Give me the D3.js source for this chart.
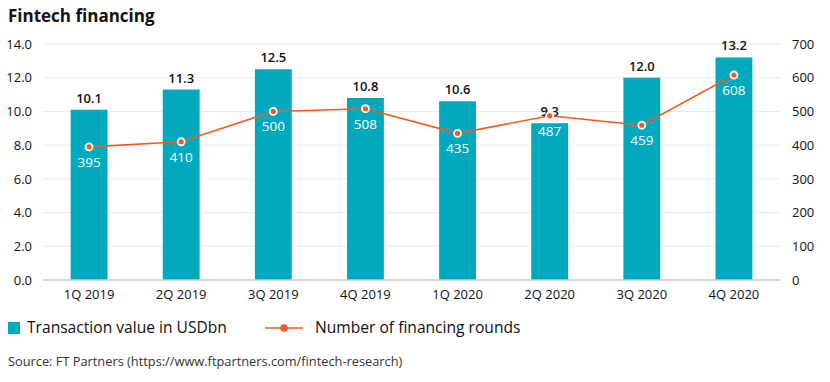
<!DOCTYPE html>
<html><head><meta charset="utf-8">
<script src="https://cdn.jsdelivr.net/npm/d3@7"></script>
<style>
body{margin:0;background:#fff;}
text{font-family:"Open Sans",sans-serif;}
</style></head>
<body><svg id="c" width="830" height="382"></svg>
<script>
const categories=["1Q 2019","2Q 2019","3Q 2019","4Q 2019","1Q 2020","2Q 2020","3Q 2020","4Q 2020"];
const transactionValue=[10.1,11.3,12.5,10.8,10.6,9.3,12.0,13.2];
const financingRounds=[395,410,500,508,435,487,459,608];
const leftTicks=[0,2,4,6,8,10,12,14];
const rightTicks=[0,100,200,300,400,500,600,700];

const svg=d3.select("#c");
const L=43,R=780,T=44,B=280;
const x=d3.scaleBand().domain(categories).range([L,R]).paddingInner(0.6).paddingOuter(0.3);
const yL=d3.scaleLinear().domain([0,14]).range([B,T]);
const yR=d3.scaleLinear().domain([0,700]).range([B,T]);
const barC="#00a9bd",lineC="#f15a24",txt="#111";

svg.append("text").attr("x",8).attr("y",22).attr("font-size",17).attr("font-weight",700).attr("fill",txt).text("Fintech financing");

// grid
svg.append("g").selectAll("line").data(leftTicks.slice(1)).join("line")
 .attr("x1",L).attr("x2",R).attr("y1",d=>yL(d)).attr("y2",d=>yL(d)).attr("stroke","#ebebeb").attr("stroke-width",1);

// left axis
const ax=d3.axisLeft(yL).tickValues(leftTicks).tickFormat(d3.format(".1f")).tickSize(0).tickPadding(11);
const gl=svg.append("g").attr("transform",`translate(${L},0)`).call(ax);
gl.select(".domain").remove();
gl.selectAll("text").attr("font-size",13).attr("fill",txt).attr("font-family","Open Sans");
const ar=d3.axisRight(yR).tickValues(rightTicks).tickSize(0).tickPadding(12);
const gr=svg.append("g").attr("transform",`translate(${R},0)`).call(ar);
gr.select(".domain").remove();
gr.selectAll("text").attr("font-size",13).attr("fill",txt).attr("font-family","Open Sans");

// bars
svg.append("g").selectAll("rect").data(transactionValue).join("rect")
 .attr("x",(d,i)=>x(categories[i])).attr("width",x.bandwidth())
 .attr("y",d=>yL(d)).attr("height",d=>B-yL(d)).attr("fill",barC);

// baseline
svg.append("line").attr("x1",L).attr("x2",R).attr("y1",B).attr("y2",B).attr("stroke","#cccccc").attr("stroke-width",1.5);

// x axis
const axb=d3.axisBottom(x).tickSize(0).tickPadding(10);
const gb=svg.append("g").attr("transform",`translate(0,${B})`).call(axb);
gb.select(".domain").remove();
gb.selectAll("text").attr("font-size",13).attr("fill",txt).attr("font-family","Open Sans");

// bar labels
svg.append("g").selectAll("text").data(transactionValue).join("text")
 .attr("x",(d,i)=>x(categories[i])+x.bandwidth()/2).attr("y",d=>yL(d)-7)
 .attr("text-anchor","middle").attr("font-size",13).attr("font-weight",600).attr("fill",txt)
 .text(d=>d.toFixed(1));

// line
const cx=i=>x(categories[i])+x.bandwidth()/2;
const line=d3.line().x((d,i)=>cx(i)).y(d=>yR(d));
svg.append("path").datum(financingRounds).attr("d",line).attr("fill","none").attr("stroke",lineC).attr("stroke-width",1.6);
svg.append("g").selectAll("circle").data(financingRounds).join("circle")
 .attr("cx",(d,i)=>cx(i)).attr("cy",d=>yR(d)).attr("r",3.5).attr("fill",lineC).attr("stroke","#fff").attr("stroke-width",1.8);
svg.append("g").selectAll("text").data(financingRounds).join("text")
 .attr("x",(d,i)=>cx(i)).attr("y",d=>yR(d)+20)
 .attr("text-anchor","middle").attr("font-size",13.5).attr("fill","#fff").text(d=>d);

// legend
svg.append("rect").attr("x",8).attr("y",322).attr("width",12).attr("height",12).attr("fill",barC);
svg.append("text").attr("x",27).attr("y",333).attr("font-size",15.6).attr("fill",txt).text("Transaction value in USDbn");
svg.append("line").attr("x1",265).attr("x2",303).attr("y1",328).attr("y2",328).attr("stroke",lineC).attr("stroke-width",1.6);
svg.append("circle").attr("cx",284).attr("cy",328).attr("r",3.8).attr("fill",lineC);
svg.append("text").attr("x",315).attr("y",333).attr("font-size",15.6).attr("fill",txt).text("Number of financing rounds");

svg.append("text").attr("x",8).attr("y",366).attr("font-size",12.8).attr("fill","#333").text("Source: FT Partners (https://www.ftpartners.com/fintech-research)");
</script></body></html>
